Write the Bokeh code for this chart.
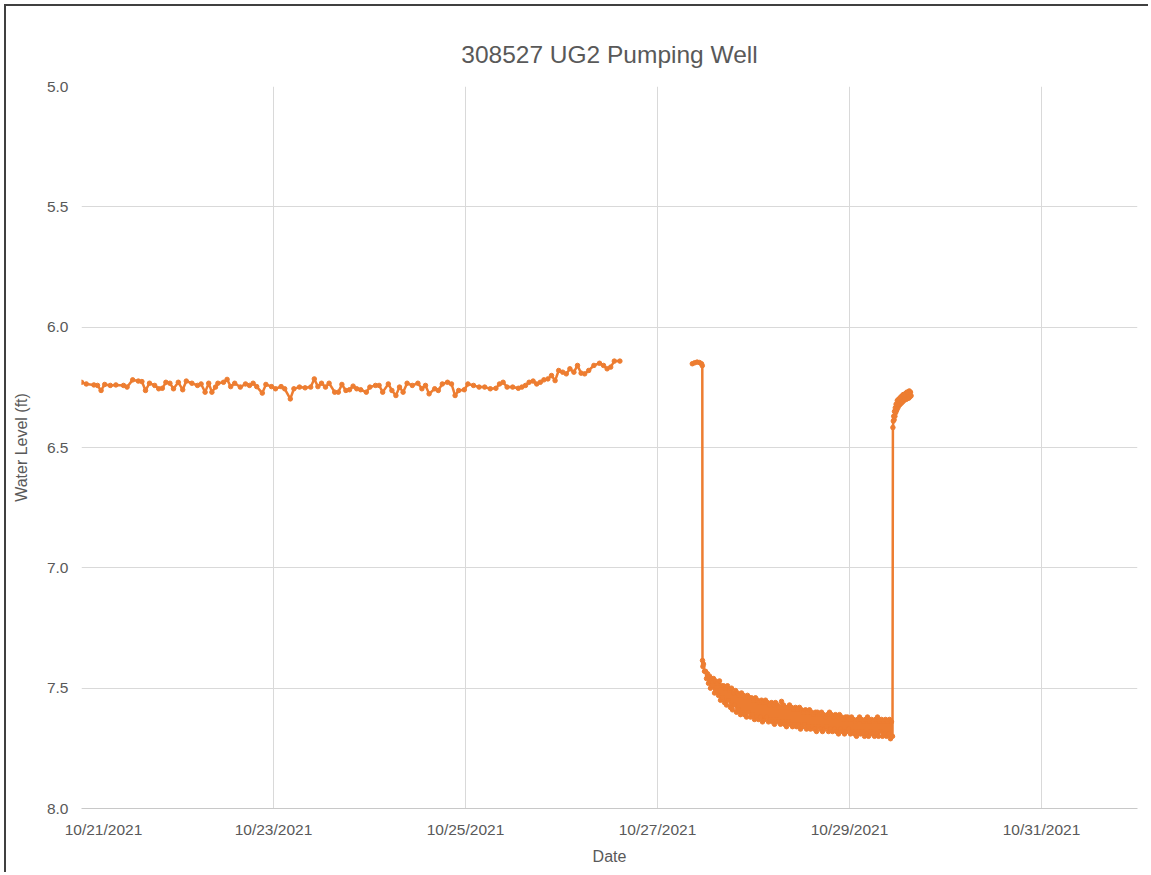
import datetime as dt
from bokeh.plotting import figure
from bokeh.models import (Range1d, FixedTicker, DatetimeTickFormatter, PrintfTickFormatter,
                          ColumnDataSource)
from bokeh.embed import file_html
from bokeh.resources import INLINE

# ---------------- data ----------------
TITLE = "308527 UG2 Pumping Well"
X_LABEL = "Date"
Y_LABEL = "Water Level (ft)"
START = dt.datetime(2021, 10, 21)
END = dt.datetime(2021, 11, 1)
tick_dates = ["2021-10-21", "2021-10-23", "2021-10-25", "2021-10-27", "2021-10-29", "2021-10-31"]
y_ticks = [5.0, 5.5, 6.0, 6.5, 7.0, 7.5, 8.0]

# static period, hours after 10/21/2021 00:00
seg1_hours = [0.0, 1.2, 3.1, 4.0, 4.9, 5.8, 7.2, 8.6, 10.5, 11.4, 12.8, 14.2, 15.1, 16.0, 17.0, 18.3,
              19.3, 20.2, 21.1, 22.1, 23.0, 24.2, 25.3, 26.2, 27.6, 29.0, 29.9, 30.9, 31.8, 32.6,
              33.5, 34.1, 35.5, 36.4, 37.3, 38.3, 39.7, 41.0, 42.0, 42.9, 43.8, 45.2, 46.1, 47.5,
              48.5, 49.9, 50.8, 52.2, 53.1, 54.5, 55.9, 57.3, 58.2, 59.1, 60.0, 61.0, 61.9, 63.3,
              64.2, 65.1, 66.1, 67.0, 67.9, 68.8, 69.8, 71.2, 72.1, 73.5, 74.4, 75.3, 76.7, 77.6,
              78.6, 79.5, 80.4, 81.4, 82.7, 84.1, 85.1, 86.0, 86.9, 88.3, 89.2, 90.2, 91.5, 92.5,
              93.4, 94.3, 95.7, 96.6, 98.0, 99.4, 100.8, 102.2, 103.6, 104.5, 105.4, 106.4, 107.8,
              109.2, 110.1, 111.0, 111.9, 112.9, 113.8, 114.7, 115.6, 116.6, 117.5, 118.4, 119.3,
              120.3, 121.2, 122.1, 123.1, 124.0, 124.9, 125.8, 126.8, 128.1, 129.5, 130.5, 131.4,
              132.3, 133.2, 134.6]
seg1_level = [6.229, 6.236, 6.240, 6.242, 6.263, 6.238, 6.242, 6.240, 6.242, 6.249, 6.219, 6.224, 6.226,
              6.263, 6.233, 6.242, 6.256, 6.254, 6.229, 6.233, 6.256, 6.229, 6.260, 6.224, 6.233,
              6.242, 6.236, 6.270, 6.233, 6.270, 6.249, 6.233, 6.229, 6.217, 6.247, 6.233, 6.249,
              6.236, 6.242, 6.233, 6.247, 6.274, 6.238, 6.247, 6.256, 6.247, 6.256, 6.298, 6.256,
              6.249, 6.252, 6.249, 6.215, 6.247, 6.233, 6.249, 6.233, 6.270, 6.270, 6.238, 6.263,
              6.260, 6.245, 6.256, 6.260, 6.270, 6.249, 6.242, 6.242, 6.270, 6.236, 6.263, 6.284,
              6.249, 6.270, 6.233, 6.242, 6.233, 6.256, 6.242, 6.277, 6.256, 6.263, 6.236, 6.229,
              6.236, 6.284, 6.263, 6.260, 6.236, 6.242, 6.249, 6.249, 6.256, 6.254, 6.236, 6.229,
              6.249, 6.249, 6.254, 6.249, 6.242, 6.229, 6.224, 6.236, 6.229, 6.219, 6.215, 6.201,
              6.222, 6.180, 6.187, 6.194, 6.173, 6.187, 6.159, 6.191, 6.194, 6.180, 6.159, 6.150,
              6.159, 6.173, 6.166, 6.141, 6.141]

# before pumping and the drawdown
pre_hours = [152.7, 153.3, 153.9, 154.5, 155.0, 155.2, 155.25, 155.35]
pre_level = [6.152, 6.148, 6.145, 6.147, 6.152, 6.160, 7.385, 7.410]

# pumping period: logger every 0.25 h, alternating upper / lower readings
band_start = 155.5
band_top = [7.40, 7.43, 7.44, 7.45, 7.46, 7.46, 7.47, 7.48, 7.47, 7.49, 7.49, 7.50, 7.49, 7.51, 7.50,
            7.52, 7.51, 7.52, 7.53, 7.52, 7.53, 7.54, 7.53, 7.54, 7.54, 7.55, 7.54, 7.55, 7.56, 7.55,
            7.56, 7.55, 7.56, 7.57, 7.56, 7.57, 7.56, 7.57, 7.58, 7.555, 7.57, 7.58, 7.58, 7.57, 7.58,
            7.59, 7.58, 7.59, 7.58, 7.59, 7.60, 7.59, 7.60, 7.59, 7.60, 7.61, 7.60, 7.60, 7.61, 7.60,
            7.61, 7.62, 7.61, 7.60, 7.61, 7.62, 7.61, 7.62, 7.61, 7.62, 7.63, 7.62, 7.62, 7.63, 7.62,
            7.63, 7.64, 7.63, 7.62, 7.63, 7.64, 7.63, 7.62, 7.64, 7.63, 7.64, 7.63, 7.62, 7.64, 7.63,
            7.64, 7.63, 7.64, 7.63, 7.64]
band_bottom = [7.43, 7.46, 7.48, 7.50, 7.49, 7.52, 7.51, 7.53, 7.55, 7.54, 7.56, 7.57, 7.55, 7.58, 7.59,
               7.57, 7.60, 7.59, 7.61, 7.60, 7.61, 7.62, 7.60, 7.62, 7.61, 7.63, 7.62, 7.63, 7.62, 7.64,
               7.63, 7.62, 7.64, 7.63, 7.64, 7.65, 7.63, 7.64, 7.65, 7.64, 7.65, 7.66, 7.64, 7.65, 7.66,
               7.65, 7.66, 7.65, 7.67, 7.66, 7.65, 7.67, 7.66, 7.67, 7.66, 7.67, 7.68, 7.66, 7.67, 7.68,
               7.67, 7.66, 7.68, 7.67, 7.68, 7.67, 7.68, 7.69, 7.67, 7.68, 7.69, 7.68, 7.67, 7.69, 7.68,
               7.69, 7.70, 7.68, 7.69, 7.68, 7.70, 7.69, 7.70, 7.68, 7.69, 7.70, 7.69, 7.70, 7.68, 7.70,
               7.69, 7.70, 7.69, 7.71, 7.70]

# recovery after pump stopped
rec_hours = [202.85, 202.95, 203.05, 203.15, 203.25, 203.35, 203.45, 203.55, 203.65, 203.8, 203.95,
             204.1, 204.25, 204.4, 204.55, 204.7, 204.85, 205.0, 205.15, 205.3, 205.45, 205.6, 205.75,
             205.9, 206.05, 206.2, 206.35, 206.5, 206.65, 206.8, 206.95, 207.1, 207.25, 207.4]
rec_level = [6.417, 6.390, 6.370, 6.385, 6.350, 6.370, 6.335, 6.355, 6.320, 6.345, 6.305,
             6.335, 6.300, 6.325, 6.295, 6.320, 6.290, 6.315, 6.285, 6.310, 6.280, 6.305, 6.280,
             6.300, 6.275, 6.300, 6.270, 6.295, 6.270, 6.295, 6.265, 6.290, 6.270, 6.285]

COLOR = "#ED7D31"
GRID = "#D9D9D9"
TEXT = "#595959"
FONT = "Liberation Sans"

# ---------------- build series ----------------
def to_dt(hours):
    return [START + dt.timedelta(hours=float(h)) for h in hours]

n = min(len(band_top), len(band_bottom))
band_hours, band_level = [], []
for i in range(n):
    t = band_start + 0.5 * i
    band_hours += [t, t + 0.25]
    band_level += [band_top[i], band_bottom[i]]

seg2_hours = pre_hours + band_hours + rec_hours
seg2_level = pre_level + band_level + rec_level

src1 = ColumnDataSource(dict(x=to_dt(seg1_hours), y=seg1_level))
src2 = ColumnDataSource(dict(x=to_dt(seg2_hours), y=seg2_level))

p = figure(width=1144, height=868, x_axis_type="datetime",
           x_range=Range1d(START, END), y_range=Range1d(8.0, 5.0),
           output_backend="svg", toolbar_location=None,
           min_border_left=75, min_border_right=13, min_border_top=80, min_border_bottom=66,
           styles={"margin-left": "4px", "margin-top": "4px",
                   "border-left": "2px solid #404040", "border-top": "2px solid #404040"})

p.title.text = TITLE
p.title.align = "center"
p.title.text_font = FONT
p.title.text_font_size = "24.5px"
p.title.text_font_style = "normal"
p.title.text_color = TEXT
p.title.standoff = 37

epoch = dt.datetime(1970, 1, 1)
def ms(d):
    return (d - epoch).total_seconds() * 1000

grid_ticks = [ms(dt.datetime.strptime(d, "%Y-%m-%d")) for d in tick_dates]
# in the original the first date label sits to the right of its gridline
label_ticks = [grid_ticks[0] + 5.5 * 3600 * 1000] + grid_ticks[1:]
p.xaxis.ticker = FixedTicker(ticks=label_ticks)
p.xgrid.ticker = FixedTicker(ticks=grid_ticks)
fmt = "%m/%d/%Y"
p.xaxis.formatter = DatetimeTickFormatter(days=fmt, months=fmt, years=fmt, hours=fmt, minutes=fmt,
                                          seconds=fmt, milliseconds=fmt, microseconds=fmt, hourmin=fmt,
                                          minsec=fmt)
p.yaxis.ticker = FixedTicker(ticks=y_ticks)
p.yaxis.formatter = PrintfTickFormatter(format="%.1f")

for ax in (p.xaxis, p.yaxis):
    ax.major_tick_in = 0
    ax.major_tick_out = 0
    ax.minor_tick_in = 0
    ax.minor_tick_out = 0
    ax.major_label_text_font = FONT
    ax.major_label_text_font_size = "15.5px"
    ax.major_label_text_color = TEXT
    ax.axis_label_text_font = FONT
    ax.axis_label_text_font_size = "16px"
    ax.axis_label_text_font_style = "normal"
    ax.axis_label_text_color = TEXT

p.xaxis.axis_label = X_LABEL
p.yaxis.axis_label = Y_LABEL
p.xaxis.axis_line_color = "#C8C8C8"
p.yaxis.axis_line_color = None
p.xaxis.major_label_standoff = 12
p.xaxis.axis_label_standoff = 7
p.yaxis.major_label_standoff = 13
p.yaxis.axis_label_standoff = 14

p.xgrid.grid_line_color = GRID
p.ygrid.grid_line_color = GRID
p.outline_line_color = None

for src in (src1, src2):
    p.line("x", "y", source=src, line_color=COLOR, line_width=2.5)
    p.scatter("x", "y", source=src, size=4.5, fill_color=COLOR, line_color=COLOR)

open("out.html", "w").write(file_html(p, INLINE))
